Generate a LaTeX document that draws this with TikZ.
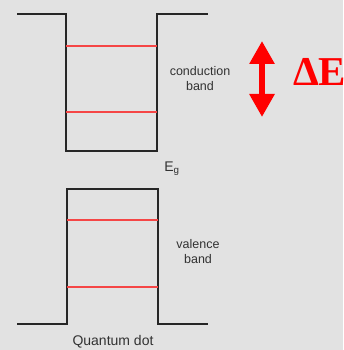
\documentclass[tikz,border=0pt]{standalone}
\usepackage{fontspec}
\setmainfont{Liberation Sans}
\newfontfamily\deltafont{Liberation Serif}
\usetikzlibrary{arrows.meta}
\definecolor{bggray}{RGB}{226,226,226}
\definecolor{levelred}{RGB}{245,70,70}
\definecolor{labelgray}{RGB}{50,50,50}
\tikzset{
  band/.style={line width=2pt,black!85},
  level/.style={line width=1.2pt,levelred},
  lbl/.style={text=labelgray,font=\fontsize{12.5}{15}\selectfont,align=center,inner sep=0pt}
}
\begin{document}
\begin{tikzpicture}[x=1pt,y=-1pt]
\fill[bggray] (0,0) rectangle (343,350);
\useasboundingbox (0,0) rectangle (343,350);
% conduction band well
\draw[band] (17,14) -- (66,14) -- (66,151) -- (157,151) -- (157,14) -- (208,14);
\draw[level] (66,46) -- (157,46);
\draw[level] (66,112) -- (157,112);
\node[lbl] (cband) at (200,79) {conduction\\band};
% gap
\node[lbl,font=\fontsize{14}{16}\selectfont] (gap) at (172,169) {E\textsubscript{g}};
% valence band barrier
\draw[band] (17,324) -- (67,324) -- (67,189) -- (158,189) -- (158,324) -- (208,324);
\draw[level] (67,220) -- (158,220);
\draw[level] (67,287) -- (158,287);
\node[lbl] (vband) at (198,252) {valence\\band};
\node[lbl,font=\fontsize{14}{16}\selectfont] (qdot) at (113,342) {Quantum dot};
% energy difference
\coordinate (etop) at (262,41);
\coordinate (ebot) at (262,117);
\draw[red,line width=6pt,{Triangle[width=24pt,length=23pt]}-{Triangle[width=24pt,length=23pt]}] (etop) -- (ebot);
\node[red,anchor=base west,inner sep=0pt,font=\deltafont\bfseries\fontsize{41}{43}\selectfont] (dE) at (293,85) {ΔE};
\end{tikzpicture}
\end{document}
